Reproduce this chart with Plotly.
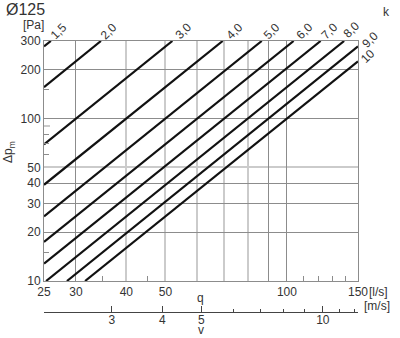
import plotly.graph_objects as go
import math

# ---------------- data ----------------
k_labels = ["1,5", "2,0", "3,0", "4,0", "5,0", "6,0", "7,0", "8,0", "9,0", "10"]
# line endpoints: (q [l/s], dp [Pa])
q_start = [25, 25, 25, 25, 25, 25, 25, 25.3, 28.5, 31.6]
dp_start = [278, 156, 69.4, 39.1, 25.0, 17.4, 12.8, 10, 10, 10]
q_end = [26.0, 34.6, 52.0, 69.3, 86.6, 103.9, 121.2, 138.6, 150, 150]
dp_end = [300, 300, 300, 300, 300, 300, 300, 300, 278, 225]

x_ticks = [25, 30, 40, 50, 100, 150]
y_ticks = [10, 20, 30, 40, 50, 100, 200, 300]
x_grid_dark = [30, 90, 100]
x_grid_light = [40, 50, 60, 70, 80]
x_minor_ticks = [35, 45, 110, 120, 130, 140]
y_grid_dark = [20, 30, 40, 100, 200]
y_grid_light = [50]
y_minor_ticks = [15, 60, 70, 80, 150]
y_minor_light = [90]
v_ticks = [3, 4, 5, 10]
v_minor = [6, 7, 8, 9, 11, 12]
duct_d = 0.125  # m
area = math.pi / 4 * duct_d ** 2  # m2

q_range = [25, 150]
dp_range = [10, 300]

# ---------------- layout helpers ----------------
W, H = 400, 338
ML, MR, MT, MB = 44, 42, 41, 0
PW, PH = W - ML - MR, H - MT - MB
plot_bottom = 281
ydom0 = (H - MB - plot_bottom) / PH


def PX(px):
    return (px - ML) / PW


def PY(py):
    return (H - MB - py) / PH


DARK = "#8c8c8c"
LIGHT = "#cbcbcb"
TXT = "#333333"
FONT = "Liberation Sans, Arial, sans-serif"

lx = [math.log10(v) for v in q_range]
ly = [math.log10(v) for v in dp_range]
v_range = [math.log10(q / 1000 / area) for q in q_range]

fig = go.Figure()
for i in range(len(k_labels)):
    fig.add_trace(go.Scatter(
        x=[q_start[i], q_end[i]], y=[dp_start[i], dp_end[i]],
        mode="lines", line=dict(color="#111111", width=2.2),
        showlegend=False, hoverinfo="skip"))

# dummy traces for overlay axes
for xa, ya in [("x2", "y"), ("x3", "y"), ("x4", "y"), ("x", "y2"), ("x", "y3")]:
    fig.add_trace(go.Scatter(x=[None], y=[None], xaxis=xa, yaxis=ya,
                             showlegend=False, hoverinfo="skip"))

tickfont = dict(family=FONT, size=12, color=TXT)

fig.update_layout(
    width=W, height=H,
    margin=dict(l=ML, r=MR, t=MT, b=MB, autoexpand=False),
    paper_bgcolor="white", plot_bgcolor="white",
    showlegend=False,
    font=dict(family=FONT, size=12, color=TXT),
    xaxis=dict(type="log", range=lx, tickmode="array", tickvals=x_ticks,
               ticktext=[str(v) for v in x_ticks], ticks="", showgrid=False,
               zeroline=False, showline=True, mirror=True, linecolor=DARK,
               linewidth=1, tickfont=tickfont, anchor="y", automargin=False),
    yaxis=dict(type="log", range=ly, domain=[ydom0, 1], tickmode="array",
               tickvals=y_ticks, ticktext=[str(v) for v in y_ticks], ticks="",
               showgrid=False, zeroline=False, showline=True, mirror=True,
               linecolor=DARK, linewidth=1, tickfont=tickfont, anchor="x",
               automargin=False),
    xaxis3=dict(type="log", range=lx, overlaying="x", anchor="y",
                tickmode="array", tickvals=x_grid_dark, showticklabels=False,
                ticks="", showgrid=True, gridcolor=DARK, gridwidth=1,
                showline=False, zeroline=False, automargin=False,
                minor=dict(tickmode="array", tickvals=x_grid_light,
                           showgrid=True, gridcolor=LIGHT, gridwidth=2, ticks="")),
    xaxis4=dict(type="log", range=lx, overlaying="x", anchor="y",
                tickmode="array", tickvals=x_minor_ticks, showticklabels=False,
                ticks="inside", ticklen=5, tickcolor=DARK, tickwidth=1,
                showgrid=False, showline=False, zeroline=False, automargin=False),
    yaxis2=dict(type="log", range=ly, domain=[ydom0, 1], overlaying="y",
                anchor="x", tickmode="array", tickvals=y_grid_dark,
                showticklabels=False, ticks="", showgrid=True, gridcolor=DARK,
                gridwidth=1, showline=False, zeroline=False, automargin=False,
                minor=dict(tickmode="array", tickvals=y_grid_light,
                           showgrid=True, gridcolor=LIGHT, gridwidth=2, ticks="")),
    yaxis3=dict(type="log", range=ly, domain=[ydom0, 1], overlaying="y",
                anchor="x", tickmode="array", tickvals=y_minor_ticks,
                showticklabels=False, ticks="inside", ticklen=5, tickcolor=DARK,
                tickwidth=1, showgrid=False, showline=False, zeroline=False,
                automargin=False,
                minor=dict(tickmode="array", tickvals=y_minor_light,
                           ticks="inside", ticklen=6, tickcolor=LIGHT,
                           tickwidth=2, showgrid=False)),
    xaxis2=dict(type="log", range=v_range, overlaying="x", anchor="free",
                position=PY(312), side="bottom", tickmode="array",
                tickvals=v_ticks, ticktext=[str(v) for v in v_ticks],
                ticks="inside", ticklen=6, tickcolor="#444", tickwidth=1,
                showline=True, linecolor="#444", linewidth=1, showgrid=False,
                zeroline=False, tickfont=tickfont, automargin=False,
                ticklabelstandoff=-3,
                minor=dict(tickmode="array", tickvals=v_minor, ticks="inside",
                           ticklen=3, tickcolor="#444", tickwidth=1,
                           showgrid=False)),
)

ann = []


def txt(s, px, py, size=12, angle=0, xanchor="center", yanchor="middle"):
    ann.append(dict(text=s, x=PX(px), y=PY(py), xref="paper", yref="paper",
                    showarrow=False, textangle=angle, xanchor=xanchor,
                    yanchor=yanchor, borderpad=0,
                    font=dict(family=FONT, size=size, color=TXT)))


txt("Ø125", 5, 9, size=16, xanchor="left")
txt("[Pa]", 33, 25)
txt("k", 386, 12)
txt("[l/s]", 378, 292)
txt("[m/s]", 377, 306)
txt("q", 200, 298)
txt("v", 201, 338, yanchor="bottom")
txt("Δp<sub>m</sub>", 9, 152, angle=-90)

# k labels near line ends
label_shift = [(8, 10), (8, 10), (11, 10), (12, 10), (10, 10), (11, 10),
               (9, 10), (7, 11), (12, 6), (10, 5)]
for i, lab in enumerate(k_labels):
    dx, dy = label_shift[i]
    ann.append(dict(text=lab, x=math.log10(q_end[i]), y=math.log10(dp_end[i]),
                    xref="x", yref="y", showarrow=False, textangle=-45,
                    xshift=dx, yshift=dy, xanchor="center", yanchor="middle",
                    font=dict(family=FONT, size=12, color=TXT)))

fig.update_layout(annotations=ann)
fig.write_html("out.html")
